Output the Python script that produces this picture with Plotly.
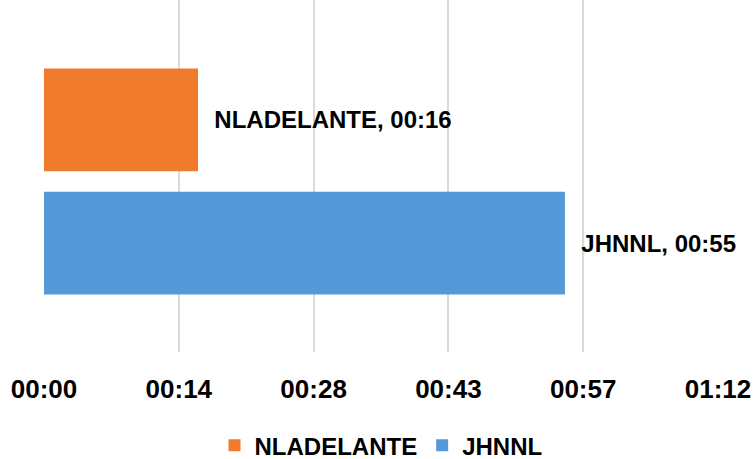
import plotly.graph_objects as go

# durations in seconds (chart shows mm:ss, truncated)
names = ["NLADELANTE", "JHNNL"]
seconds = [16.45, 55.65]
colors = ["#F07B2C", "#5599D8"]

tick_seconds = [0, 14.4, 28.8, 43.2, 57.6, 72.0]


def mmss(sec):
    s = int(sec)
    return f"{s // 60:02d}:{s % 60:02d}"


FONT = "Liberation Sans, Arial, sans-serif"
bold = dict(family=FONT, size=24, color="black", weight="bold")

fig = go.Figure()
# plotly stacks grouped horizontal bars bottom-up, so add in reverse
for name, sec, col in reversed(list(zip(names, seconds, colors))):
    fig.add_trace(go.Bar(
        y=[""], x=[sec], name=name, orientation="h",
        marker=dict(color=col, line=dict(width=0)),
        text=["\u00a0\u00a0" + f"{name}, {mmss(sec)}"],
        textposition="outside", constraintext="none", cliponaxis=False,
        textfont=bold,
    ))

fig.update_layout(
    width=753, height=459,
    margin=dict(l=44, r=35, t=0, b=107, autoexpand=False),
    plot_bgcolor="white", paper_bgcolor="white",
    barmode="group", bargap=0.30, bargroupgap=0.167,
    font=bold,
    showlegend=True,
    legend=dict(orientation="h", traceorder="reversed",
                x=0.5, xanchor="center", y=-0.266, yanchor="middle",
                font=bold),
    xaxis=dict(range=[0, 72], tickvals=tick_seconds,
               ticktext=[mmss(t) for t in tick_seconds],
               showgrid=True, gridcolor="#D9D9D9", gridwidth=1.5,
               zeroline=False, showline=False, ticks="",
               ticklabelstandoff=19, automargin=False,
               tickfont=dict(bold, size=26)),
    yaxis=dict(range=[-0.4844, 0.5156], showticklabels=False, showgrid=False,
               zeroline=False, showline=False, automargin=False),
)

# drop the default body margin so the chart sits at the page corner
fig.write_html("out.html", config={"displayModeBar": False},
               post_script="document.body.style.margin='0';")
